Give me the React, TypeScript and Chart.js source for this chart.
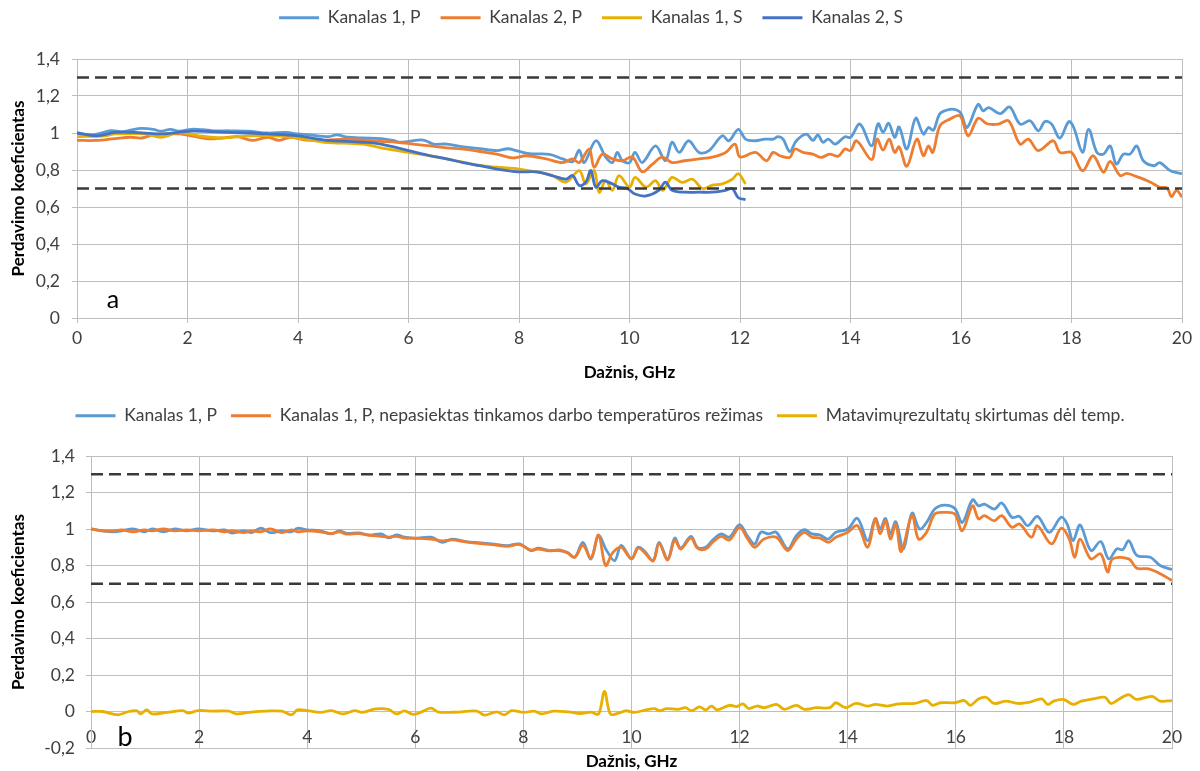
import React, { useEffect, useRef } from "react";
import { Chart, registerables } from "chart.js";

Chart.register(...registerables);

// ---------------- Panel a data ----------------
const freqA_K1P = [0,0.28,0.48,0.62,0.83,0.97,1.17,1.38,1.52,1.69,1.86,2.07,2.28,2.48,2.76,3.1,3.45,3.79,4.0,4.2,4.55,4.7,4.9,5.17,5.5,5.72,5.85,6.0,6.27,6.45,6.69,6.99,7.29,7.6,7.8,7.95,8.19,8.55,8.79,8.97,9.09,9.18,9.39,9.57,9.69,9.78,9.87,10.0,10.1,10.23,10.47,10.65,10.77,10.9,11.07,11.26,11.44,11.68,11.8,11.97,12.1,12.28,12.45,12.6,12.69,12.78,12.9,13.02,13.2,13.32,13.41,13.5,13.6,13.72,13.9,14.0,14.17,14.38,14.5,14.59,14.69,14.8,14.88,15.02,15.18,15.32,15.41,15.5,15.62,15.8,15.93,16.0,16.11,16.31,16.4,16.5,16.71,16.88,17.07,17.25,17.4,17.52,17.64,17.79,17.95,18.04,18.2,18.31,18.46,18.58,18.7,18.81,18.94,19.06,19.18,19.3,19.49,19.6,19.79,20.0];
const valA_K1P = [1.0,0.99,1.003,1.013,1.007,1.016,1.025,1.02,1.01,1.02,1.01,1.02,1.018,1.012,1.012,1.01,1.0,1.003,0.995,0.99,0.98,0.99,0.977,0.973,0.97,0.96,0.95,0.955,0.962,0.94,0.94,0.925,0.915,0.905,0.915,0.905,0.888,0.885,0.86,0.845,0.907,0.84,0.958,0.87,0.84,0.895,0.85,0.84,0.895,0.84,0.93,0.85,0.95,0.895,0.958,0.895,0.905,0.985,0.958,1.02,0.967,0.958,0.967,0.967,0.98,0.967,0.90,0.958,0.994,0.96,0.99,0.95,0.967,0.94,0.98,0.976,1.048,0.93,1.05,1.003,1.053,0.976,1.033,0.913,1.08,0.994,1.03,1.015,1.105,1.128,1.123,1.105,1.03,1.155,1.12,1.137,1.105,1.14,1.048,1.066,1.012,1.062,1.048,0.972,1.062,1.03,0.895,1.02,0.895,0.886,0.93,0.832,0.886,0.886,0.93,0.85,0.823,0.84,0.796,0.78];

const freqA_K2P = [0,0.35,0.69,0.97,1.17,1.38,1.66,1.86,2.07,2.41,2.62,2.9,3.17,3.45,3.66,3.86,4.14,4.48,4.83,5.17,5.5,5.79,6.09,6.39,6.69,6.99,7.29,7.6,7.89,8.13,8.49,8.79,8.97,9.09,9.27,9.36,9.51,9.69,9.87,10.05,10.23,10.41,10.59,10.77,11.0,11.26,11.5,11.74,11.91,12.0,12.28,12.48,12.6,12.72,12.9,12.99,13.14,13.32,13.47,13.62,13.78,13.9,14.0,14.11,14.38,14.48,14.59,14.7,14.8,14.88,15.02,15.2,15.32,15.41,15.49,15.62,15.8,15.98,16.13,16.31,16.47,16.68,16.86,17.07,17.22,17.4,17.67,17.79,18.0,18.2,18.39,18.58,18.7,18.88,19.0,19.18,19.43,19.6,19.73,19.81,19.9,20.0];
const valA_K2P = [0.96,0.96,0.97,0.977,0.973,0.99,0.995,0.995,0.985,0.968,0.973,0.98,0.96,0.977,0.96,0.977,0.962,0.96,0.967,0.962,0.955,0.95,0.94,0.93,0.92,0.913,0.90,0.886,0.865,0.877,0.86,0.84,0.86,0.84,0.913,0.815,0.886,0.86,0.85,0.87,0.79,0.83,0.87,0.84,0.85,0.86,0.87,0.895,0.94,0.87,0.895,0.85,0.895,0.877,0.868,0.913,0.895,0.886,0.868,0.886,0.875,0.913,0.905,0.958,0.856,0.967,0.908,0.967,0.895,0.925,0.82,0.967,0.877,0.93,0.895,1.04,1.075,1.093,0.985,1.08,1.05,1.048,1.066,0.94,0.967,0.905,0.958,0.895,0.895,0.796,0.877,0.788,0.847,0.77,0.782,0.764,0.734,0.707,0.703,0.656,0.69,0.653];

const freqA_K1S = [0,0.5,0.69,1.24,1.52,1.86,2.2,2.62,3.1,3.59,4.0,4.48,5.17,5.5,6.0,6.39,6.69,7.29,7.6,8.0,8.31,8.6,8.85,9.09,9.21,9.36,9.45,9.57,9.69,9.81,10.0,10.1,10.3,10.47,10.6,10.77,10.95,11.14,11.32,11.5,11.68,11.86,11.97,12.1];
const valA_K1S = [0.98,0.985,0.995,0.995,0.977,1.003,0.985,0.973,0.985,0.985,0.973,0.95,0.94,0.92,0.895,0.877,0.86,0.825,0.815,0.805,0.79,0.77,0.734,0.797,0.725,0.797,0.68,0.742,0.69,0.77,0.707,0.76,0.707,0.742,0.69,0.76,0.733,0.75,0.70,0.718,0.725,0.75,0.78,0.725];

const freqA_K2S = [0,0.35,0.69,1.03,1.52,2.07,2.76,3.45,4.0,4.48,5.17,5.5,6.0,6.39,6.69,6.99,7.29,7.6,8.0,8.31,8.6,8.85,8.97,9.09,9.21,9.3,9.39,9.51,9.69,9.81,9.96,10.1,10.3,10.53,10.65,10.77,11.0,11.26,11.5,11.74,11.86,11.97,12.1];
const valA_K2S = [1.0,0.985,1.003,1.003,0.995,1.01,1.003,0.995,0.985,0.962,0.95,0.94,0.905,0.877,0.86,0.84,0.823,0.805,0.79,0.79,0.77,0.75,0.77,0.716,0.734,0.797,0.707,0.742,0.725,0.707,0.70,0.67,0.66,0.69,0.734,0.69,0.68,0.68,0.68,0.69,0.70,0.65,0.64];

// ---------------- Panel b data ----------------
const freqB_K1P = [0,0.21,0.42,0.57,0.78,0.99,1.13,1.34,1.55,1.77,1.98,2.26,2.47,2.61,2.83,2.97,3.14,3.32,3.53,3.71,3.82,4.0,4.24,4.45,4.59,4.73,4.95,5.16,5.37,5.51,5.65,5.8,6.0,6.29,6.5,6.68,6.93,7.21,7.42,7.7,7.93,8.14,8.27,8.48,8.66,8.81,8.95,9.1,9.25,9.39,9.54,9.69,9.81,10.0,10.12,10.23,10.4,10.51,10.67,10.8,10.91,11.1,11.22,11.37,11.51,11.66,11.81,12.0,12.14,12.28,12.39,12.54,12.68,12.89,13.05,13.2,13.34,13.49,13.64,13.78,14.0,14.18,14.37,14.51,14.6,14.7,14.79,14.89,15.03,15.19,15.33,15.46,15.61,15.79,15.98,16.12,16.31,16.42,16.53,16.71,16.85,17.04,17.18,17.33,17.51,17.73,17.95,18.06,18.17,18.3,18.5,18.68,18.83,18.98,19.09,19.2,19.35,19.6,19.78,20.0];
const valB_K1P = [1.0,0.99,0.985,0.99,1.0,0.985,1.0,0.985,1.0,0.99,1.0,0.99,0.995,0.978,0.99,0.98,1.005,0.98,0.99,0.985,1.004,0.995,0.99,0.973,0.99,0.976,0.978,0.967,0.973,0.951,0.967,0.955,0.949,0.955,0.927,0.945,0.931,0.924,0.918,0.909,0.918,0.882,0.895,0.882,0.882,0.873,0.845,0.927,0.836,0.964,0.882,0.827,0.91,0.836,0.9,0.882,0.827,0.927,0.836,0.95,0.895,0.96,0.9,0.9,0.942,0.973,0.955,1.024,0.964,0.918,0.982,0.973,0.982,0.891,0.964,0.996,0.973,0.967,0.945,0.982,1.0,1.058,0.936,1.058,1.0,1.058,0.973,1.04,0.891,1.087,1.0,1.036,1.109,1.131,1.113,1.036,1.16,1.127,1.136,1.109,1.142,1.064,1.069,1.018,1.069,0.982,1.064,1.027,0.936,1.022,0.882,0.931,0.836,0.891,0.887,0.936,0.855,0.845,0.8,0.778];

const freqB_K1Pcold = [0,0.21,0.42,0.57,0.78,0.99,1.13,1.34,1.55,1.77,1.98,2.26,2.47,2.61,2.83,2.97,3.14,3.32,3.53,3.71,3.82,4.0,4.24,4.45,4.59,4.73,4.95,5.16,5.37,5.51,5.65,5.8,6.0,6.29,6.5,6.68,6.93,7.21,7.42,7.7,7.93,8.14,8.27,8.48,8.66,8.81,8.95,9.1,9.25,9.39,9.52,9.65,9.81,10.0,10.12,10.23,10.4,10.51,10.67,10.8,10.91,11.1,11.22,11.37,11.51,11.66,11.81,12.0,12.14,12.28,12.45,12.68,12.89,13.05,13.2,13.34,13.49,13.64,13.78,14.0,14.18,14.37,14.51,14.6,14.7,14.79,14.89,14.99,15.19,15.31,15.46,15.61,15.79,15.98,16.12,16.31,16.42,16.53,16.71,16.85,17.04,17.18,17.4,17.51,17.77,17.95,18.1,18.2,18.3,18.5,18.68,18.81,18.9,19.2,19.35,19.57,19.78,20.0];
const valB_K1Pcold = [1.0,0.99,0.99,0.995,0.985,0.995,0.99,1.0,0.99,0.995,0.99,0.995,0.985,0.99,0.98,0.99,0.985,1.0,0.98,0.995,0.985,0.99,0.985,0.975,0.985,0.972,0.975,0.965,0.96,0.955,0.96,0.95,0.95,0.945,0.935,0.94,0.93,0.92,0.915,0.905,0.915,0.885,0.89,0.88,0.885,0.87,0.845,0.91,0.84,0.967,0.80,0.869,0.9,0.836,0.895,0.875,0.825,0.92,0.83,0.94,0.89,0.95,0.895,0.89,0.93,0.96,0.94,1.009,0.95,0.9,0.945,0.955,0.882,0.945,0.982,0.955,0.95,0.927,0.955,0.982,1.018,0.9,1.055,0.973,1.045,0.945,1.027,0.876,1.073,0.945,0.982,1.082,1.091,1.082,0.991,1.127,1.055,1.073,1.045,1.073,1.009,1.027,0.955,1.018,0.918,1.004,0.945,0.845,0.945,0.836,0.864,0.764,0.836,0.836,0.785,0.782,0.755,0.718];

const freqB_Diff = [0,0.21,0.5,0.7,0.85,0.92,1.03,1.13,1.41,1.7,1.8,1.98,2.26,2.55,2.69,2.97,3.25,3.53,3.71,3.82,4.0,4.24,4.45,4.66,4.88,5.02,5.27,5.51,5.65,5.8,5.97,6.15,6.29,6.43,6.79,7.14,7.28,7.5,7.65,7.78,8.0,8.2,8.34,8.55,8.83,9.05,9.25,9.39,9.5,9.61,9.76,9.9,10.05,10.27,10.42,10.53,10.64,10.86,11.0,11.11,11.26,11.37,11.48,11.59,11.81,11.95,12.06,12.17,12.32,12.46,12.68,12.83,13.05,13.2,13.42,13.67,13.78,13.96,14.15,14.37,14.51,14.73,14.95,15.24,15.46,15.57,15.72,15.98,16.16,16.27,16.42,16.56,16.71,16.93,17.15,17.37,17.59,17.7,17.81,17.99,18.17,18.32,18.54,18.76,18.87,19.01,19.2,19.34,19.63,19.78,20.0];
const valB_Diff = [0,0,-0.018,0,0.003,-0.013,0.009,-0.013,-0.005,0.005,-0.009,0.005,0.002,0.002,-0.013,-0.003,0.002,0.002,-0.018,0.009,0.005,-0.005,0.005,-0.013,0.005,-0.005,0.014,0.011,-0.013,0.003,-0.016,0.002,0.018,-0.003,-0.003,0.002,-0.02,-0.002,-0.018,0.005,-0.005,0.002,-0.013,0.002,-0.002,-0.011,-0.003,-0.014,0.11,-0.014,-0.009,0.004,-0.005,0.009,0.016,0.004,0.016,0.012,0.021,0.004,0.025,0.009,0.03,0.009,0.034,0.027,0.042,0.016,0.03,0.021,0.039,0.012,0.034,0.012,0.021,0.021,0.048,0.021,0.044,0.03,0.039,0.03,0.042,0.044,0.06,0.034,0.048,0.048,0.06,0.034,0.069,0.078,0.044,0.057,0.044,0.051,0.069,0.039,0.057,0.066,0.039,0.057,0.069,0.078,0.044,0.066,0.092,0.066,0.083,0.057,0.06];

// Limit lines
const limitFreq = [0, 20];
const upperLimit = [1.3, 1.3];
const lowerLimit = [0.7, 0.7];

// Labels
const legendA = ["Kanalas 1, P", "Kanalas 2, P", "Kanalas 1, S", "Kanalas 2, S"];
const legendB = [
  "Kanalas 1, P",
  "Kanalas 1, P, nepasiektas tinkamos darbo temperatūros režimas",
  "Matavimųrezultatų skirtumas dėl temp.",
];
const xTitle = "Dažnis, GHz";
const yTitle = "Perdavimo koeficientas";
const xRange = [0, 20, 2];
const yRangeA = [0, 1.4, 0.2];
const yRangeB = [-0.2, 1.4, 0.2];

// Styles
const FONT = "Lato";
const FS = 17.5;
const FS_TITLE = 17;
const C_K1P = "#5b9bd5";
const C_K2P = "#ed7d31";
const C_K1S = "#e8b000";
const C_K2S = "#4472c4";
const C_LIMIT = "#3a3a3a";
const GRID = "#bdbdbd";
const TICK = "#404040";

Chart.defaults.font.family = FONT;

const pts = (xs: number[], ys: number[]) => xs.map((x, i) => ({ x, y: ys[i] }));

function lineDs(label: string, xs: number[], ys: number[], color: string, order: number) {
  return {
    label,
    data: pts(xs, ys),
    borderColor: color,
    backgroundColor: color,
    borderWidth: 2.8,
    pointRadius: 0,
    pointHoverRadius: 0,
    tension: 0.35,
    fill: false,
    order,
  };
}

function limitDs(ys: number[]) {
  return {
    label: "_limit",
    data: pts(limitFreq, ys),
    borderColor: C_LIMIT,
    backgroundColor: C_LIMIT,
    borderWidth: 2.5,
    borderDash: [12, 6],
    pointRadius: 0,
    tension: 0,
    fill: false,
    order: 0,
  };
}

const fmt = (v: any) => {
  const n = Number(Number(v).toFixed(1));
  return (Object.is(n, -0) ? 0 : n).toString().replace(".", ",");
};

function legendSpacer(h: number) {
  return {
    id: "legendSpacer",
    beforeInit(chart: any) {
      const legend = chart.legend;
      if (!legend) return;
      const orig = legend.fit;
      legend.fit = function () {
        orig.call(this);
        this.height = h;
      };
    },
  };
}

function letterPlugin(letter: string, xv: number, yv: number, size: number) {
  return {
    id: "panelLetter",
    afterDatasetsDraw(chart: any) {
      const { ctx, scales } = chart;
      ctx.save();
      ctx.font = `${size}px ${FONT}`;
      ctx.fillStyle = "#000";
      ctx.textAlign = "center";
      ctx.textBaseline = "middle";
      ctx.fillText(letter, scales.x.getPixelForValue(xv), scales.y.getPixelForValue(yv));
      ctx.restore();
    },
  };
}

function buildOptions(p: any) {
  return {
    responsive: false,
    maintainAspectRatio: false,
    animation: false,
    devicePixelRatio: 1,
    events: [],
    layout: { padding: p.padding },
    plugins: {
      tooltip: { enabled: false },
      legend: {
        display: true,
        position: "top",
        labels: {
          font: { family: FONT, size: FS },
          color: TICK,
          boxWidth: p.boxWidth,
          boxHeight: 3,
          padding: p.legendPad,
          generateLabels: (chart: any) => {
            const items = (Chart.defaults.plugins.legend.labels as any).generateLabels(chart);
            return items
              .filter((it: any) => !String(it.text).startsWith("_"))
              .sort((a: any, b: any) => a.datasetIndex - b.datasetIndex)
              .map((it: any) => ({ ...it, fillStyle: it.strokeStyle, lineWidth: 0, lineDash: [] }));
          },
        },
      },
    },
    scales: {
      x: {
        type: "linear",
        min: xRange[0],
        max: xRange[1],
        ticks: {
          stepSize: xRange[2],
          font: { family: FONT, size: FS },
          color: TICK,
          padding: p.xTickPad,
          mirror: p.xMirror,
          maxRotation: 0,
          autoSkip: false,
        },
        grid: { color: GRID, lineWidth: 1, drawTicks: p.xDrawTicks, tickLength: 5, tickColor: GRID },
        border: { color: GRID, width: 1 },
        title: {
          display: true,
          text: xTitle,
          font: { family: FONT, size: FS_TITLE, weight: "bold" },
          color: "#000",
          padding: { top: 0, bottom: p.xTitlePadBottom },
        },
        afterFit: (s: any) => {
          s.height = p.xHeight;
        },
      },
      y: {
        type: "linear",
        min: p.yRange[0],
        max: p.yRange[1],
        ticks: {
          stepSize: p.yRange[2],
          callback: fmt,
          font: { family: FONT, size: FS },
          color: TICK,
          padding: p.yTickPad,
        },
        grid: { color: GRID, lineWidth: 1, drawTicks: true, tickLength: 5, tickColor: GRID },
        border: { color: GRID, width: 1 },
        title: {
          display: true,
          text: yTitle,
          font: { family: FONT, size: FS_TITLE, weight: "bold" },
          color: "#000",
          padding: { top: p.yTitlePad, bottom: 0 },
        },
        afterFit: (s: any) => {
          s.width = p.yWidth;
        },
      },
    },
  };
}

function configA(): any {
  return {
    type: "line",
    data: {
      datasets: [
        lineDs(legendA[0], freqA_K1P, valA_K1P, C_K1P, 4),
        lineDs(legendA[1], freqA_K2P, valA_K2P, C_K2P, 3),
        lineDs(legendA[2], freqA_K1S, valA_K1S, C_K1S, 2),
        lineDs(legendA[3], freqA_K2S, valA_K2S, C_K2S, 1),
        limitDs(upperLimit),
        limitDs(lowerLimit),
      ],
    },
    options: buildOptions({
      padding: { top: -11, left: 0, right: 18, bottom: 0 },
      boxWidth: 40,
      legendPad: 20,
      xTickPad: 5,
      xMirror: false,
      xDrawTicks: true,
      xTitlePadBottom: 7,
      xHeight: 72,
      yRange: yRangeA,
      yTickPad: 12,
      yTitlePad: 8,
      yWidth: 77,
    }),
    plugins: [legendSpacer(70), letterPlugin("a", 0.65, 0.1, 25)],
  };
}

function configB(): any {
  return {
    type: "line",
    data: {
      datasets: [
        lineDs(legendB[0], freqB_K1P, valB_K1P, C_K1P, 3),
        lineDs(legendB[1], freqB_K1Pcold, valB_K1Pcold, C_K2P, 2),
        lineDs(legendB[2], freqB_Diff, valB_Diff, C_K1S, 1),
        limitDs(upperLimit),
        limitDs(lowerLimit),
      ],
    },
    options: buildOptions({
      padding: { top: 3, left: 28, right: 28, bottom: 0 },
      boxWidth: 40,
      legendPad: 14,
      xTickPad: 0,
      xMirror: true,
      xDrawTicks: false,
      xTitlePadBottom: -1,
      xHeight: 23,
      yRange: yRangeB,
      yTickPad: 11,
      yTitlePad: -20,
      yWidth: 63,
    }),
    plugins: [legendSpacer(63), letterPlugin("b", 0.63, -0.142, 27)],
  };
}

export default function App() {
  const refA = useRef<HTMLCanvasElement>(null);
  const refB = useRef<HTMLCanvasElement>(null);
  useEffect(() => {
    const a = new Chart(refA.current as HTMLCanvasElement, configA());
    const b = new Chart(refB.current as HTMLCanvasElement, configB());
    return () => {
      a.destroy();
      b.destroy();
    };
  }, []);
  return (
    <div style={{ position: "absolute", left: 0, top: 0, width: 1200, height: 771, background: "#fff" }}>
      <canvas
        ref={refA}
        width={1200}
        height={390}
        style={{ position: "absolute", left: 0, top: 0, width: 1200, height: 390 }}
      />
      <canvas
        ref={refB}
        width={1200}
        height={381}
        style={{ position: "absolute", left: 0, top: 390, width: 1200, height: 381 }}
      />
    </div>
  );
}
